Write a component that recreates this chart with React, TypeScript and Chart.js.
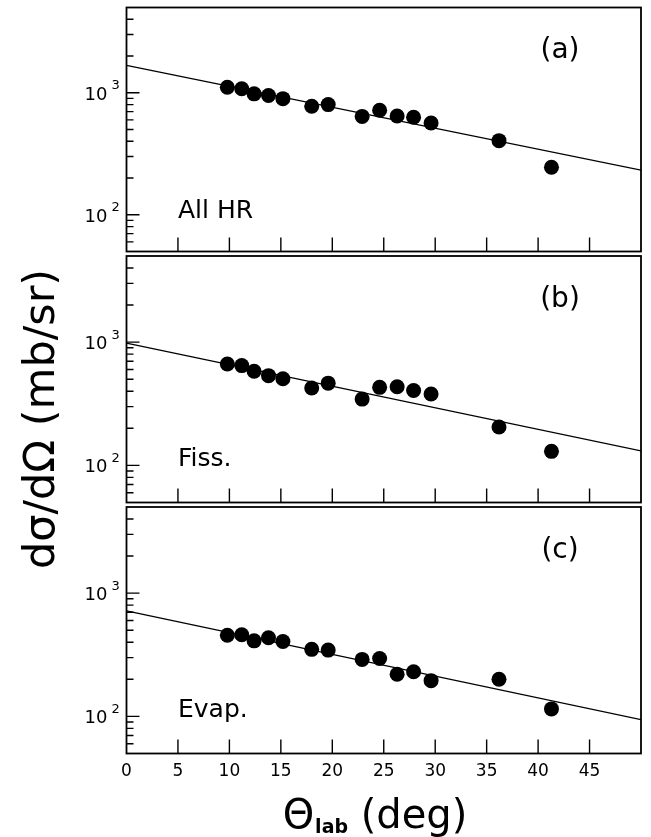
import React, { useEffect, useRef } from 'react';
import { Chart, registerables } from 'chart.js';

Chart.register(...registerables);

const W = 651;
const H = 837;

// ---- data ----
const angles = [9.8, 11.2, 12.4, 13.8, 15.2, 18.0, 19.6, 22.9, 24.6, 26.3, 27.9, 29.6, 36.2, 41.3];
const allHR = [1110, 1080, 980, 950, 895, 775, 800, 640, 720, 645, 630, 565, 405, 245];
const fission = [665, 645, 580, 535, 505, 425, 465, 345, 430, 435, 405, 380, 205, 130];
const evaporation = [455, 460, 410, 435, 405, 350, 345, 290, 295, 220, 230, 195, 200, 115];

const fitAngles = [0, 50];
const fitAllHR = [1680, 232];
const fitFission = [980, 131];
const fitEvaporation = [718, 94];

const panelTags = ['(a)', '(b)', '(c)'];
const panelNames = ['All HR', 'Fiss.', 'Evap.'];

const xTickValues = [0, 5, 10, 15, 20, 25, 30, 35, 40, 45];
const yMajorValues = [100, 1000];
const yMajorExponents = ['2', '3'];
const yMinorValues = [60, 70, 80, 90, 200, 300, 400, 500, 600, 700, 800, 900, 2000, 3000, 4000];

const seriesByPanel = [allHR, fission, evaporation];
const fitByPanel = [fitAllHR, fitFission, fitEvaporation];

// ---- layout ----
const FRAME_LEFT = 126.5;
const FRAME_RIGHT = 641;
const PANEL_TOPS = [5, 256, 507];
const PANEL_H = 246.5;
const X_AXIS_H = 32;
const FONT = '"DejaVu Sans", "Liberation Sans", sans-serif';

function makeConfig(idx: number): any {
  const top = PANEL_TOPS[idx];
  const bottom = top + PANEL_H;
  const isBottom = idx === 2;
  const vals = seriesByPanel[idx];
  const fit = fitByPanel[idx];

  const decor = {
    id: 'panelDecor' + idx,
    afterDraw(chart: any) {
      const ctx = chart.ctx as CanvasRenderingContext2D;
      const ca = chart.chartArea;
      const xs = chart.scales.x;
      const ys = chart.scales.y;
      ctx.save();
      ctx.strokeStyle = '#000';
      ctx.fillStyle = '#000';
      ctx.lineWidth = 1.8;
      ctx.strokeRect(ca.left, ca.top, ca.right - ca.left, ca.bottom - ca.top);

      ctx.lineWidth = 1.4;
      ctx.beginPath();
      for (const v of xTickValues) {
        if (v === 0) continue;
        const px = xs.getPixelForValue(v);
        ctx.moveTo(px, ca.bottom);
        ctx.lineTo(px, ca.bottom - 14);
      }
      for (const v of yMajorValues) {
        const py = ys.getPixelForValue(v);
        ctx.moveTo(ca.left, py);
        ctx.lineTo(ca.left + 13, py);
      }
      for (const v of yMinorValues) {
        const py = ys.getPixelForValue(v);
        ctx.moveTo(ca.left, py);
        ctx.lineTo(ca.left + 7, py);
      }
      ctx.stroke();

      // y tick labels 10^n
      yMajorValues.forEach((v, i) => {
        const py = ys.getPixelForValue(v);
        ctx.font = `18px ${FONT}`;
        ctx.textAlign = 'right';
        ctx.textBaseline = 'alphabetic';
        ctx.fillText('10', ca.left - 19, py + 6.8);
        ctx.font = `13px ${FONT}`;
        ctx.textAlign = 'left';
        ctx.fillText(yMajorExponents[i], ca.left - 15, py - 3.4);
      });

      // panel labels
      ctx.font = `28px ${FONT}`;
      ctx.textAlign = 'center';
      ctx.textBaseline = 'middle';
      ctx.fillText(panelTags[idx], 560, ca.top + 43.5);
      ctx.font = `25px ${FONT}`;
      ctx.textAlign = 'left';
      ctx.textBaseline = 'alphabetic';
      ctx.fillText(panelNames[idx], 178, ca.top + 210);

      if (isBottom) {
        // x title: Θ_lab (deg)
        const mainFont = `40px ${FONT}`;
        const subFont = `bold 19px ${FONT}`;
        ctx.font = mainFont;
        const w1 = ctx.measureText('Θ').width;
        const w3 = ctx.measureText(' (deg)').width;
        ctx.font = subFont;
        const w2 = ctx.measureText('lab').width;
        const total = w1 + 1 + w2 + w3;
        let x0 = 375 - total / 2;
        ctx.textAlign = 'left';
        ctx.textBaseline = 'alphabetic';
        ctx.font = mainFont;
        ctx.fillText('Θ', x0, 828);
        x0 += w1 + 1;
        ctx.font = subFont;
        ctx.fillText('lab', x0, 833);
        x0 += w2;
        ctx.font = mainFont;
        ctx.fillText(' (deg)', x0, 828);

        // y title
        ctx.save();
        ctx.translate(53.5, 419);
        ctx.rotate(-Math.PI / 2);
        ctx.font = `43px ${FONT}`;
        ctx.textAlign = 'center';
        ctx.textBaseline = 'alphabetic';
        ctx.fillText('dσ/dΩ (mb/sr)', 0, 0);
        ctx.restore();
      }
      ctx.restore();
    },
  };

  return {
    type: 'scatter',
    data: {
      datasets: [
        {
          label: panelNames[idx],
          data: angles.map((a, i) => ({ x: a, y: vals[i] })),
          pointRadius: 7.5,
          pointHoverRadius: 7.5,
          pointBackgroundColor: '#000',
          pointBorderWidth: 0,
          borderColor: '#000',
          showLine: false,
        },
        {
          label: 'fit',
          data: fitAngles.map((a, i) => ({ x: a, y: fit[i] })),
          showLine: true,
          pointRadius: 0,
          borderColor: '#000',
          borderWidth: 1.3,
          fill: false,
        },
      ],
    },
    options: {
      animation: false,
      responsive: false,
      events: [],
      layout: {
        padding: {
          left: FRAME_LEFT,
          right: W - FRAME_RIGHT,
          top: top,
          bottom: H - bottom - (isBottom ? X_AXIS_H : 0),
        },
      },
      plugins: {
        legend: { display: false },
        tooltip: { enabled: false },
        title: { display: false },
      },
      scales: {
        x: {
          type: 'linear',
          min: 0,
          max: 50,
          display: isBottom,
          position: 'bottom',
          grid: { display: false, drawTicks: false },
          border: { display: false },
          afterBuildTicks: (s: any) => {
            s.ticks = xTickValues.map((v) => ({ value: v }));
          },
          afterFit: (s: any) => {
            if (isBottom) s.height = X_AXIS_H;
          },
          ticks: {
            color: '#000',
            font: { family: FONT, size: 17 },
            padding: 8,
            autoSkip: false,
            maxRotation: 0,
            callback: (v: any) => String(v),
          },
        },
        y: {
          type: 'logarithmic',
          min: 50,
          max: 5000,
          display: false,
        },
      },
    },
    plugins: [decor],
  };
}

function Panel({ idx }: { idx: number }) {
  const ref = useRef<HTMLCanvasElement | null>(null);
  useEffect(() => {
    if (!ref.current) return;
    const chart = new Chart(ref.current, makeConfig(idx));
    return () => chart.destroy();
  }, [idx]);
  return (
    <canvas
      ref={ref}
      width={W}
      height={H}
      style={{ position: 'absolute', left: 0, top: 0, width: W, height: H }}
    />
  );
}

export default function App() {
  return (
    <div
      style={{
        position: 'absolute',
        left: 0,
        top: 0,
        width: W,
        height: H,
        background: '#fff',
        overflow: 'hidden',
      }}
    >
      <Panel idx={0} />
      <Panel idx={1} />
      <Panel idx={2} />
    </div>
  );
}
